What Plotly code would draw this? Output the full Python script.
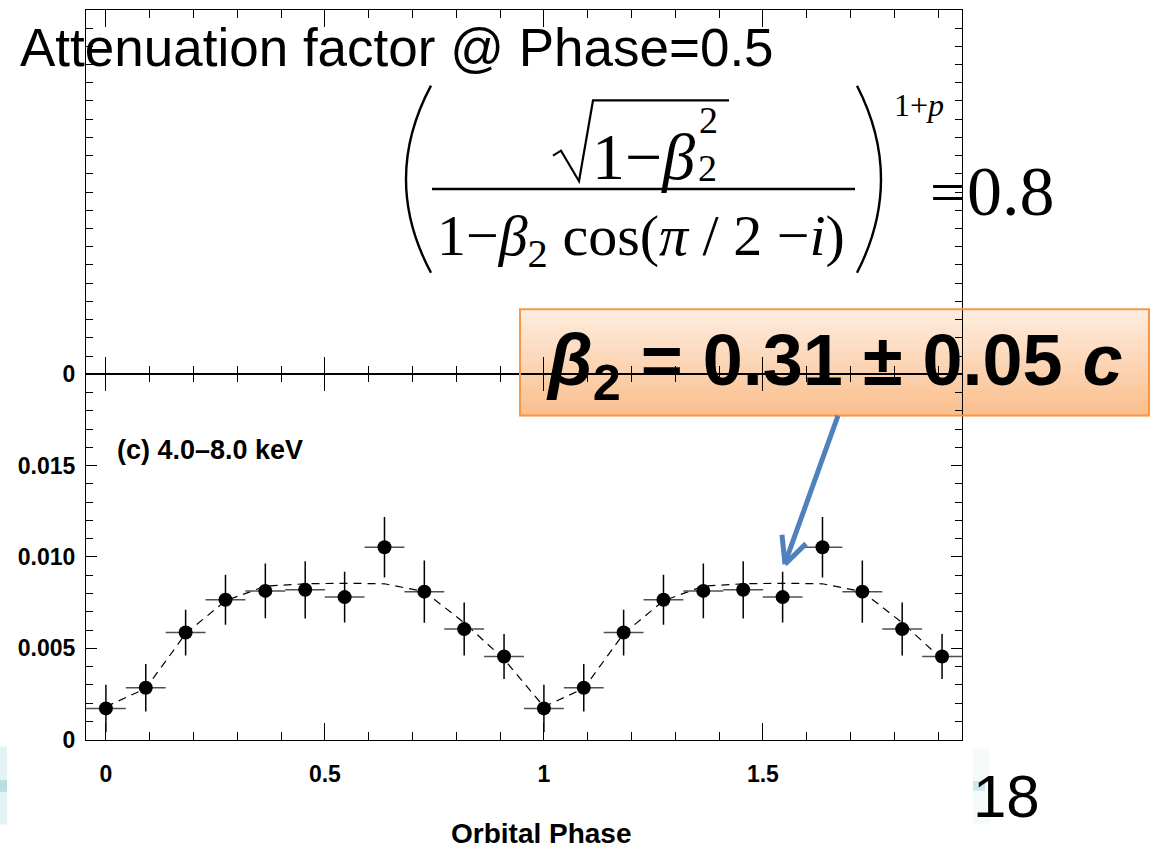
import plotly.graph_objects as go

W, H = 1158, 858

# ---------------- data ----------------
phase = [0.000, 0.091, 0.182, 0.273, 0.364, 0.455, 0.545, 0.636, 0.727, 0.818, 0.909,
         1.000, 1.091, 1.182, 1.273, 1.364, 1.455, 1.545, 1.636, 1.727, 1.818, 1.909]
rate_cycle = [0.00171, 0.00284, 0.00586, 0.00766, 0.00814, 0.00820,
              0.00780, 0.01053, 0.00810, 0.00605, 0.00455]
rate_err_cycle = [0.00130, 0.00130, 0.00125, 0.00137, 0.00150, 0.00157,
                  0.00139, 0.00165, 0.00170, 0.00145, 0.00123]
model_cycle = [0.00180, 0.00280, 0.00580, 0.00760, 0.00840, 0.00853,
               0.00856, 0.00853, 0.00810, 0.00640, 0.00440]
rate = rate_cycle + rate_cycle
rate_err = rate_err_cycle + rate_err_cycle
model = model_cycle + model_cycle
bin_half_width = 0.0455

x_ticks = [0, 0.5, 1, 1.5]
x_ticktext = ["0", "0.5", "1", "1.5"]
y_ticks = [0, 0.005, 0.010, 0.015]
y_ticktext = ["0", "0.005", "0.010", "0.015"]
y2_ticks = [0]
y2_ticktext = ["0"]

SANS = "Liberation Sans, Arial, sans-serif"
SERIF = "Liberation Serif, Times New Roman, serif"


def px(x):
    return x / W


def py(y):
    return 1 - y / H


fig = go.Figure()

fig.add_trace(go.Scatter(
    x=phase, y=model, mode="lines",
    line=dict(color="black", width=1.2, dash="8px,6px"),
    hoverinfo="skip", showlegend=False, xaxis="x", yaxis="y"))

fig.add_trace(go.Scatter(
    x=phase, y=rate, mode="markers",
    marker=dict(color="black", size=14, symbol="circle"),
    error_y=dict(type="data", array=rate_err, color="black", thickness=1.5, width=0),
    error_x=dict(type="data", array=[bin_half_width] * len(phase), color="#505050",
                 thickness=1.5, width=0),
    showlegend=False, xaxis="x", yaxis="y"))

# empty upper panel (covered by slide text)
fig.add_trace(go.Scatter(x=[None], y=[None], xaxis="x2", yaxis="y2", showlegend=False))

xdom = [px(86), px(962)]
axis_common = dict(showline=True, linecolor="black", linewidth=1.2, mirror="allticks",
                   ticks="inside", tickcolor="black", tickwidth=1.3, showgrid=False,
                   zeroline=False)
tickfont = dict(family=SANS, size=23, color="black", weight="bold")

fig.update_layout(
    width=W, height=H,
    margin=dict(l=0, r=0, t=0, b=0),
    paper_bgcolor="white", plot_bgcolor="rgba(0,0,0,0)",
    xaxis=dict(domain=xdom, anchor="y", range=[-0.04545, 1.95455],
               tickvals=x_ticks, ticktext=x_ticktext, ticklen=17,
               minor=dict(dtick=0.1, tick0=0, ticklen=8, ticks="inside",
                          tickcolor="black", tickwidth=1.1),
               tickfont=tickfont, ticklabelstandoff=14, **axis_common),
    yaxis=dict(domain=[py(751), py(380)], anchor="x", range=[0, 0.02],
               tickvals=y_ticks, ticktext=y_ticktext, ticklen=11,
               minor=dict(dtick=0.001, tick0=0, ticklen=7, ticks="inside",
                          tickcolor="black", tickwidth=1.1),
               tickfont=tickfont, ticklabelstandoff=5, **axis_common),
    xaxis2=dict(domain=xdom, anchor="y2", matches="x", range=[-0.04545, 1.95455],
                tickvals=x_ticks, showticklabels=False, ticklen=17,
                minor=dict(dtick=0.1, tick0=0, ticklen=8, ticks="inside",
                           tickcolor="black", tickwidth=1.1),
                **axis_common),
    yaxis2=dict(domain=[py(380), py(10)], anchor="x2", range=[0, 0.02],
                tickvals=y2_ticks, ticktext=y2_ticktext, ticklen=11,
                minor=dict(dtick=0.001, tick0=0, ticklen=7, ticks="inside",
                           tickcolor="black", tickwidth=1.1),
                tickfont=tickfont, ticklabelstandoff=5, **axis_common),
)

shapes = []

# orange result box with vertical gradient
top_c = (254, 237, 224)
bot_c = (250, 190, 140)
bx0, bx1, by0, by1 = 520, 1149, 314, 422
n = 30
for i in range(n):
    t = (i + 0.5) / n
    c = tuple(int(round(top_c[k] + (bot_c[k] - top_c[k]) * t)) for k in range(3))
    ya = by0 + (by1 - by0) * i / n
    yb = by0 + (by1 - by0) * (i + 1) / n + 0.6
    shapes.append(dict(type="rect", xref="paper", yref="paper", layer="below",
                       x0=px(bx0), x1=px(bx1), y0=py(ya), y1=py(yb),
                       line=dict(width=0), fillcolor="rgb(%d,%d,%d)" % c))
shapes.append(dict(type="rect", xref="paper", yref="paper", layer="above",
                   x0=px(bx0), x1=px(bx1), y0=py(by0), y1=py(by1),
                   line=dict(color="#F79646", width=2), fillcolor="rgba(0,0,0,0)"))

# slide background remnants
for (x0, x1, y0, y1, col) in [(0, 7, 758, 837, "rgba(200,230,236,0.5)"),
                              (0, 7, 792, 804, "rgb(185,222,228)"),
                              (973, 990, 760, 837, "rgba(235,245,248,0.5)"),
                              (973, 985, 793, 803, "rgb(205,232,237)")]:
    shapes.append(dict(type="rect", xref="paper", yref="paper", layer="below",
                       x0=px(x0), x1=px(x1), y0=py(y0), y1=py(y1),
                       line=dict(width=0), fillcolor=col))


def path(points, close=False):
    s = "M " + " L ".join("%.5f,%.5f" % (px(a), py(b)) for a, b in points)
    return s + (" Z" if close else "")


def qpath(p0, c, p1):
    return "M %.5f,%.5f Q %.5f,%.5f %.5f,%.5f" % (px(p0[0]), py(p0[1]), px(c[0]), py(c[1]),
                                                 px(p1[0]), py(p1[1]))


# big parentheses
shapes.append(dict(type="path", xref="paper", yref="paper",
                   path=qpath((431, 87), (381, 182), (431, 277)),
                   line=dict(color="black", width=2.4)))
shapes.append(dict(type="path", xref="paper", yref="paper",
                   path=qpath((857, 87), (905, 182), (857, 277)),
                   line=dict(color="black", width=2.4)))
# fraction bar
shapes.append(dict(type="line", xref="paper", yref="paper",
                   x0=px(432), x1=px(855), y0=py(192), y1=py(192),
                   line=dict(color="black", width=2.5)))
# square root sign
shapes.append(dict(type="path", xref="paper", yref="paper",
                   path=path([(553, 158), (561, 153), (579, 184), (593, 102), (729, 102)]),
                   line=dict(color="black", width=2.2)))

# blue arrow pointing at the data
ARROW = "#4F81BD"
for (a, b) in [((838, 422), (786, 569)), ((785, 573), (782, 543)), ((785, 573), (806, 552))]:
    shapes.append(dict(type="line", xref="paper", yref="paper",
                       x0=px(a[0]), y0=py(a[1]), x1=px(b[0]), y1=py(b[1]),
                       line=dict(color=ARROW, width=5)))

fig.update_layout(shapes=shapes)


def text(s, x, baseline, size, family, anchor="center", weight="normal", k=0.35, color="black"):
    return dict(text=s, x=px(x), y=py(baseline - k * size), xref="paper", yref="paper",
                xanchor=anchor, yanchor="middle", showarrow=False,
                font=dict(family=family, size=size, color=color, weight=weight))


ann = [
    text("Attenuation factor @ Phase=0.5", 18, 67, 53, SANS, anchor="left"),
    # formula
    text("1−<i>β</i>", 643, 181, 66, SERIF, k=0.34),
    text("2", 708, 135, 38, SERIF, k=0.34),
    text("2", 707, 183, 38, SERIF, k=0.34),
    text("1−<i>β</i><sub>2</sub> cos(<i>π</i> / 2 −<i>i</i>)", 641, 263, 58, SERIF, k=0.34),
    text("1+<i>p</i>", 892, 117, 32, SERIF, anchor="left", k=0.34),
    text("=", 947, 216, 62, SERIF, k=0.34),
    text("0.8", 1011, 218, 70, SERIF, k=0.34),
    # result box text
    text("<i>β</i><sub>2</sub> = 0.31 ± 0.05 <i>c</i>", 834, 396, 72, SANS, weight="bold"),
    # panel label and axis title
    text("(c) 4.0–8.0 keV", 115, 466, 27, SANS, anchor="left", weight="bold"),
    text("Orbital Phase", 541, 856, 28, SANS, weight="bold"),
    # slide number
    text("18", 1006, 830, 60, SANS),
]

fig.update_layout(annotations=ann)

fig.write_html("out.html")
